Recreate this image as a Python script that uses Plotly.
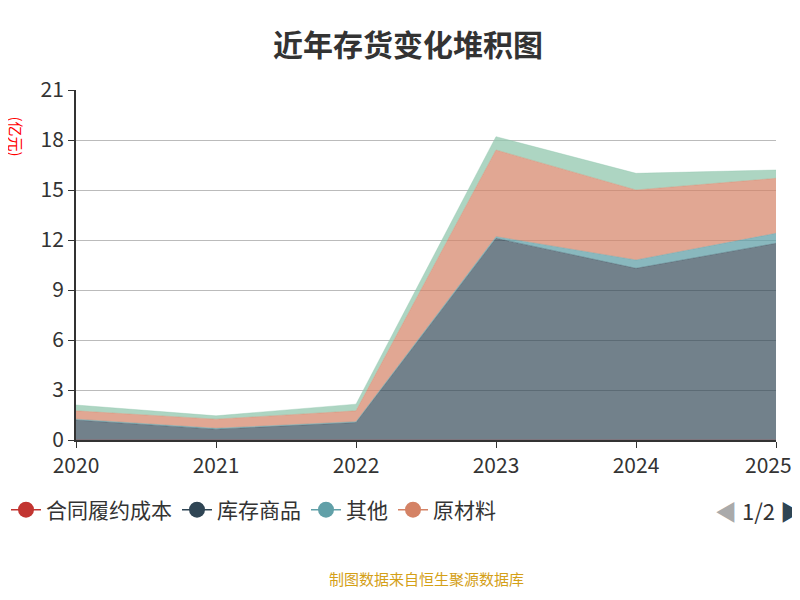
import plotly.graph_objects as go

years = ["2020", "2021", "2022", "2023", "2024", "2025H"]
contract_cost = [0, 0, 0, 0, 0, 0]
goods = [1.2, 0.65, 1.05, 12.1, 10.3, 11.8]
other = [0.05, 0.05, 0.05, 0.1, 0.5, 0.6]
materials = [0.5, 0.55, 0.65, 5.2, 4.2, 3.3]
wip = [0.35, 0.2, 0.4, 0.8, 1.0, 0.5]

series = [
    ("合同履约成本", contract_cost, "#c23531", "rgba(194,53,49,0.6)"),
    ("库存商品", goods, "#2f4554", "rgba(47,69,84,0.68)"),
    ("其他", other, "#61a0a8", "rgba(97,160,168,0.75)"),
    ("原材料", materials, "#d48265", "rgba(212,130,101,0.7)"),
    ("在产品", wip, "#91c7ae", "rgba(145,199,174,0.75)"),
]

fig = go.Figure()
for name, vals, col, fill in series:
    fig.add_trace(go.Scatter(
        x=years, y=vals, name=name, stackgroup="one", mode="lines",
        line=dict(width=0.5, color=fill), fillcolor=fill, showlegend=False,
    ))

# legend entries (first page of 2)
for name, vals, col, fill in series[:4]:
    fig.add_trace(go.Scatter(
        x=[None], y=[None], name=name, mode="lines+markers",
        line=dict(color=col, width=1.5), marker=dict(color=col, size=20),
    ))

fig.update_layout(
    width=800, height=600,
    font=dict(family="Noto Sans CJK SC", color="#333"),
    title=dict(text="<b>近年存货变化堆积图</b>", x=0.5, xanchor="center", y=0.955,
               font=dict(size=30, color="#333")),
    plot_bgcolor="white", paper_bgcolor="white",
    margin=dict(l=68, r=32, t=82, b=168, autoexpand=False),
    showlegend=True,
    legend=dict(orientation="h", x=-0.1, y=-0.2, xanchor="left", yanchor="middle",
                traceorder="normal", font=dict(size=21, color="#333")),
    xaxis=dict(range=[0, 5], showgrid=False, showline=True, linecolor="#333",
               linewidth=2, ticks="outside", ticklen=6, tickcolor="#333",
               tickfont=dict(size=21), tickvals=years),
    yaxis=dict(range=[0, 21], dtick=3, showgrid=True, gridcolor="#bbb",
               showline=True, linecolor="#333", linewidth=2, ticks="outside",
               ticklen=6, tickcolor="#333", tickfont=dict(size=21), zeroline=False),
    annotations=[
        dict(text="(亿元)", x=0, y=0.93, xref="paper", yref="paper",
             xanchor="center", showarrow=False, textangle=90,
             font=dict(size=15, color="red"), xshift=-60),
        dict(text="<span style='color:#aaa'>◀</span> 1/2 <span style='color:#2f4554'>▶</span>",
             x=1.04, y=-0.2, xref="paper", yref="paper", xanchor="right",
             yanchor="middle", showarrow=False, font=dict(size=22, color="#333")),
        dict(text="制图数据来自恒生聚源数据库", x=0.5, y=-0.43, xref="paper",
             yref="paper", showarrow=False, font=dict(size=15, color="#d4a017")),
    ],
)

fig.write_html("out.html")
